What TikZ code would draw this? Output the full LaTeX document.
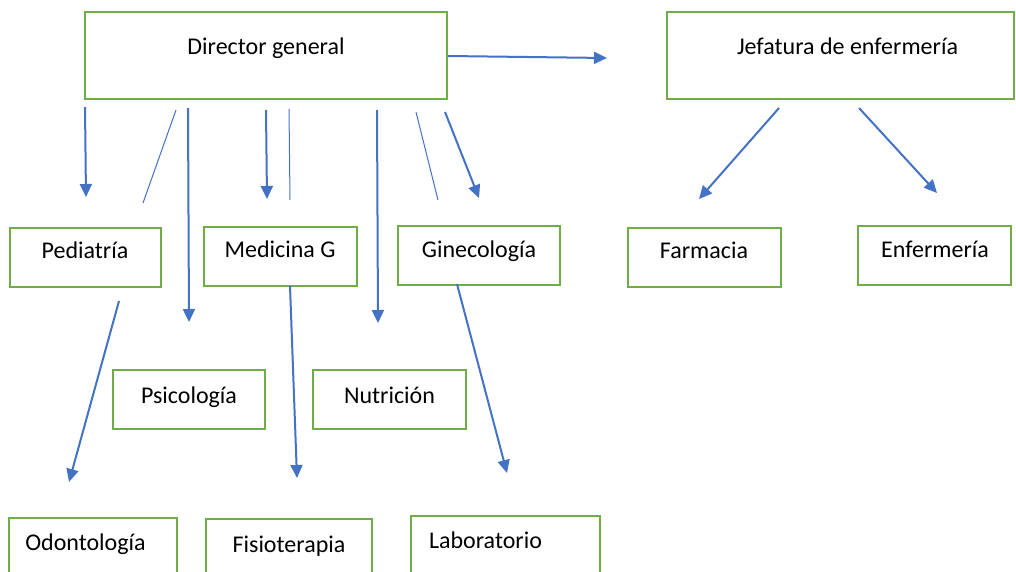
\documentclass[tikz,border=0pt]{standalone}
\usepackage{fontspec}
\setmainfont{Carlito}
\usetikzlibrary{arrows.meta}
\definecolor{boxgreen}{HTML}{70AD47}
\definecolor{arrowblue}{HTML}{4472C4}
\begin{document}
\begin{tikzpicture}[x=1pt,y=-1pt,
  orgbox/.style={draw=boxgreen, line width=2pt, rectangle, inner sep=0pt},
  lbl/.style={anchor=base, inner sep=0pt, font=\fontsize{24}{28}\selectfont},
  arr/.style={draw=arrowblue, line width=2pt, -{Triangle[length=13pt,width=12pt]}},
  thinline/.style={draw=arrowblue, line width=1pt}]
\clip (0,0) rectangle (1016,571);
\fill[white] (0,0) rectangle (1016,571);
% boxes
\node[orgbox, minimum width=362pt, minimum height=87pt] (dg) at (266,55.5) {};
\node[orgbox, minimum width=347pt, minimum height=87pt] (je) at (840.5,55.5) {};
\node[orgbox, minimum width=151pt, minimum height=59pt] (pe) at (85,257.5) {};
\node[orgbox, minimum width=153pt, minimum height=59pt] (mg) at (280.5,256.5) {};
\node[orgbox, minimum width=162pt, minimum height=59pt] (gi) at (479,255.5) {};
\node[orgbox, minimum width=153pt, minimum height=59pt] (fa) at (704.5,257.5) {};
\node[orgbox, minimum width=153pt, minimum height=59pt] (en) at (934.5,255.5) {};
\node[orgbox, minimum width=152pt, minimum height=59pt] (ps) at (189,399.5) {};
\node[orgbox, minimum width=153pt, minimum height=59pt] (nu) at (389.5,399.5) {};
\node[orgbox, minimum width=168pt, minimum height=60pt] (od) at (93,548) {};
\node[orgbox, minimum width=166pt, minimum height=60pt] (fi) at (289,549) {};
\node[orgbox, minimum width=189pt, minimum height=60pt] (la) at (505.5,546) {};
% labels
\node[lbl] (dgt) at (266,54) {Director general};
\node[lbl] (jet) at (847.5,54) {Jefatura de enfermería};
\node[lbl] (pet) at (85,258) {Pediatría};
\node[lbl] (mgt) at (280,257) {Medicina G};
\node[lbl] (git) at (479,257) {Ginecología};
\node[lbl] (fat) at (704,258) {Farmacia};
\node[lbl] (ent) at (935,257) {Enfermería};
\node[lbl] (pst) at (189,403) {Psicología};
\node[lbl] (nut) at (389.5,403) {Nutrición};
\node[lbl] (odt) at (85.5,550) {Odontología};
\node[lbl] (fit) at (289,552) {Fisioterapia};
\node[lbl] (lat) at (485.5,548) {Laboratorio};
% connector end points
\coordinate (a1s) at (85,107);   \coordinate (a1e) at (86,197);
\coordinate (t1s) at (176,110);  \coordinate (t1e) at (143,203);
\coordinate (a2s) at (188,108);  \coordinate (a2e) at (189,322);
\coordinate (a3s) at (266,110);  \coordinate (a3e) at (267,199);
\coordinate (t2s) at (289,109);  \coordinate (t2e) at (290,200);
\coordinate (a4s) at (377,110);  \coordinate (a4e) at (378,323);
\coordinate (t3s) at (416,112);  \coordinate (t3e) at (438,200);
\coordinate (a5s) at (445,112);  \coordinate (a5e) at (479,198);
\coordinate (a6e) at (607,58);
\coordinate (a7s) at (779,108);  \coordinate (a7e) at (699,199);
\coordinate (a8s) at (859,108);  \coordinate (a8e) at (937,193);
\coordinate (a9s) at (119,301);  \coordinate (a9e) at (69,482);
\coordinate (a10s) at (290,286); \coordinate (a10e) at (297,478);
\coordinate (a11s) at (457,284); \coordinate (a11e) at (507,473);
% connectors
\draw[arr] (a1s) -- (a1e);
\draw[thinline] (t1s) -- (t1e);
\draw[arr] (a2s) -- (a2e);
\draw[arr] (a3s) -- (a3e);
\draw[thinline] (t2s) -- (t2e);
\draw[arr] (a4s) -- (a4e);
\draw[thinline] (t3s) -- (t3e);
\draw[arr] (a5s) -- (a5e);
\draw[arr] (dg.east |- 0,56) -- (a6e);
\draw[arr] (a7s) -- (a7e);
\draw[arr] (a8s) -- (a8e);
\draw[arr] (a9s) -- (a9e);
\draw[arr] (a10s) -- (a10e);
\draw[arr] (a11s) -- (a11e);
\end{tikzpicture}
\end{document}
